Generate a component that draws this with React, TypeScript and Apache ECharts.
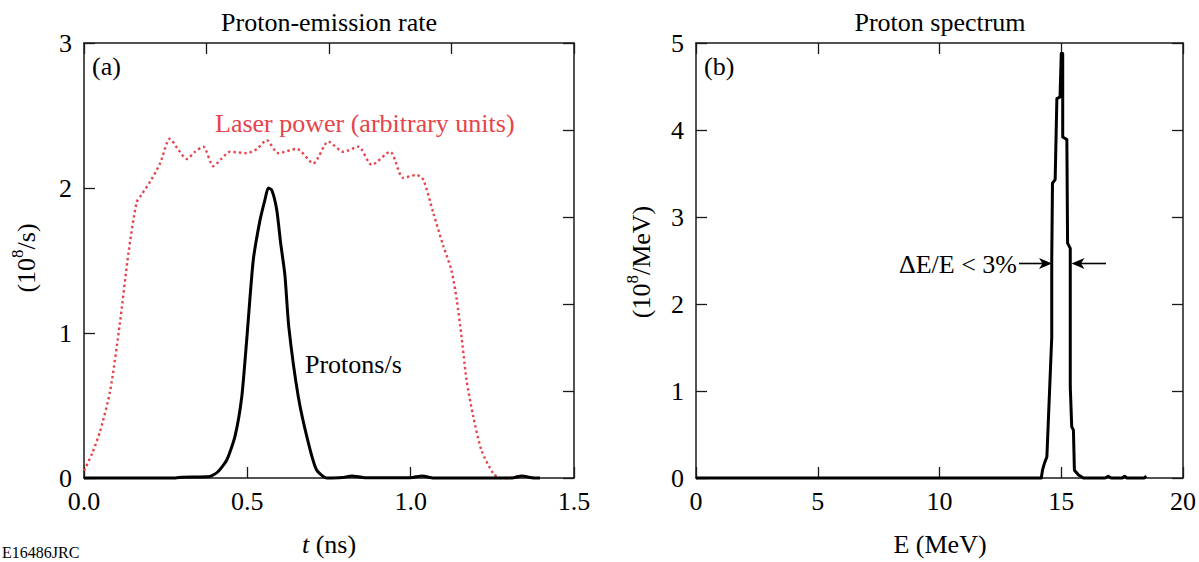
import React, { useEffect, useRef } from "react";
import * as echarts from "echarts";

// Panel (a): proton-emission rate (10^8/s) vs t (ns)
const protonT = [0, 0.28, 0.3, 0.385, 0.41, 0.437, 0.462, 0.483, 0.498, 0.518, 0.539, 0.554, 0.564, 0.575, 0.59, 0.602, 0.615, 0.627, 0.656, 0.687, 0.712, 0.743, 0.79, 0.82, 0.86, 1.0, 1.035, 1.07, 1.31, 1.34, 1.37, 1.396];
const protonRate = [0, 0, 0.006, 0.01, 0.043, 0.124, 0.285, 0.56, 0.95, 1.5, 1.78, 1.92, 2.0, 1.985, 1.85, 1.62, 1.4, 1.04, 0.56, 0.24, 0.055, 0, 0.003, 0.014, 0.002, 0.002, 0.014, 0, 0, 0.014, 0.002, 0];

// Laser power (arbitrary units), plotted on the left scale
const laserT = [0, 0.025, 0.049, 0.08, 0.11, 0.136, 0.161, 0.175, 0.207, 0.233, 0.263, 0.29, 0.314, 0.34, 0.365, 0.396, 0.42, 0.447, 0.498, 0.53, 0.559, 0.595, 0.651, 0.702, 0.748, 0.794, 0.84, 0.881, 0.937, 0.977, 1.018, 1.039, 1.069, 1.1, 1.125, 1.141, 1.156, 1.171, 1.192, 1.217, 1.253, 1.273, 1.3, 1.335, 1.36, 1.38];
const laserPower = [0.05, 0.17, 0.32, 0.6, 1.07, 1.55, 1.9, 1.95, 2.06, 2.17, 2.34, 2.26, 2.2, 2.25, 2.285, 2.15, 2.2, 2.25, 2.24, 2.27, 2.33, 2.24, 2.27, 2.17, 2.32, 2.25, 2.285, 2.16, 2.25, 2.07, 2.09, 2.055, 1.83, 1.6, 1.43, 1.23, 0.97, 0.676, 0.42, 0.19, 0.03, 0, 0, 0.014, 0.003, 0];

// Panel (b): proton spectrum (10^8/MeV) vs E (MeV)
const specE = [0, 14.18, 14.23, 14.31, 14.41, 14.61, 14.61, 14.64, 14.75, 14.82, 14.95, 15.0, 15.06, 15.06, 15.23, 15.26, 15.37, 15.37, 15.37, 15.43, 15.5, 15.54, 15.71, 15.91, 16.8, 16.93, 17.05, 17.5, 17.6, 17.7, 18.4, 18.5];
const specVal = [0, 0, 0.09, 0.17, 0.245, 1.62, 2.51, 3.39, 3.43, 4.36, 4.38, 4.88, 4.88, 3.92, 3.89, 2.7, 2.64, 2.05, 1.05, 0.59, 0.55, 0.09, 0.035, 0, 0, 0.02, 0, 0, 0.02, 0, 0, 0.02];

const leftXTicks = ["0.0", "0.5", "1.0", "1.5"];

const FONT = "'Liberation Serif', 'Times New Roman', serif";
const RED = "#e6434b";
const FRAME = "#1a1a1a";

export default function App() {
  const ref = useRef<HTMLDivElement>(null);

  useEffect(() => {
    if (!ref.current) return;
    const chart = echarts.init(ref.current, undefined, { renderer: "svg" });

    const axisBase = (extra: any) => ({
      axisLine: { show: true, onZero: false, lineStyle: { color: FRAME, width: 1.5 } },
      axisTick: { show: true, inside: true, length: 11, lineStyle: { color: FRAME, width: 1.3 } },
      splitLine: { show: false },
      ...extra,
    });
    const label = (extra: any) => ({
      show: true,
      color: "#000",
      fontFamily: FONT,
      fontSize: 26,
      ...extra,
    });

    const zip = (a: number[], b: number[]) => a.map((v, i) => [v, b[i]]);

    const option: any = {
      animation: false,
      backgroundColor: "#fff",
      grid: [
        { left: 84, right: 625, top: 43, bottom: 84 },
        { left: 696, right: 14, top: 43, bottom: 84 },
      ],
      xAxis: [
        axisBase({
          type: "value", gridIndex: 0, position: "bottom", min: 0, max: 1.5, interval: 0.5,
          axisLabel: label({ margin: 10, formatter: (v: number) => leftXTicks[Math.round(v / 0.5)] ?? "" }),
        }),
        axisBase({
          type: "value", gridIndex: 0, position: "top", min: 0, max: 1.5, interval: 0.375,
          axisLabel: { show: false },
        }),
        axisBase({
          type: "value", gridIndex: 1, position: "bottom", min: 0, max: 20, interval: 5,
          axisLabel: label({ margin: 10 }),
        }),
        axisBase({
          type: "value", gridIndex: 1, position: "top", min: 0, max: 20, interval: 5,
          axisLabel: { show: false },
        }),
      ],
      yAxis: [
        axisBase({
          type: "value", gridIndex: 0, position: "left", min: 0, max: 3, interval: 1,
          axisLabel: label({ margin: 12 }),
        }),
        axisBase({
          type: "value", gridIndex: 0, position: "right", min: 0, max: 5, interval: 1,
          axisLabel: { show: false },
        }),
        axisBase({
          type: "value", gridIndex: 1, position: "left", min: 0, max: 5, interval: 1,
          axisLabel: label({ margin: 12 }),
        }),
        axisBase({
          type: "value", gridIndex: 1, position: "right", min: 0, max: 5, interval: 1,
          axisLabel: { show: false },
        }),
      ],
      series: [
        {
          type: "line", name: "Laser power", xAxisIndex: 0, yAxisIndex: 0,
          data: zip(laserT, laserPower), showSymbol: false, smooth: 0.25,
          lineStyle: { color: RED, width: 2.4, type: [2.4, 3] },
          clip: false,
        },
        {
          type: "line", name: "Protons/s", xAxisIndex: 0, yAxisIndex: 0,
          data: zip(protonT, protonRate), showSymbol: false, smooth: 0.2,
          lineStyle: { color: "#000", width: 3 },
          clip: false,
        },
        {
          type: "line", name: "Proton spectrum", xAxisIndex: 2, yAxisIndex: 2,
          data: zip(specE, specVal), showSymbol: false, smooth: false,
          lineStyle: { color: "#000", width: 3, join: "round" },
          clip: false,
        },
      ],
      graphic: [
        { type: "text", x: 329, y: 22.5, style: { text: "Proton-emission rate", font: `26px ${FONT}`, fill: "#000", align: "center", verticalAlign: "middle" } },
        { type: "text", x: 940, y: 22.5, style: { text: "Proton spectrum", font: `26px ${FONT}`, fill: "#000", align: "center", verticalAlign: "middle" } },
        { type: "text", x: 92, y: 66, style: { text: "(a)", font: `26px ${FONT}`, fill: "#000", align: "left", verticalAlign: "middle" } },
        { type: "text", x: 704, y: 66, style: { text: "(b)", font: `26px ${FONT}`, fill: "#000", align: "left", verticalAlign: "middle" } },
        { type: "text", x: 215, y: 123, style: { text: "Laser power (arbitrary units)", font: `26px ${FONT}`, fill: RED, align: "left", verticalAlign: "middle" } },
        { type: "text", x: 305, y: 364, style: { text: "Protons/s", font: `26px ${FONT}`, fill: "#000", align: "left", verticalAlign: "middle" } },
        {
          type: "text", x: 329, y: 544,
          style: {
            text: "{i|t}{n| (ns)}", align: "center", verticalAlign: "middle", fill: "#000",
            rich: {
              i: { fontFamily: FONT, fontSize: 26, fontStyle: "italic", fill: "#000" },
              n: { fontFamily: FONT, fontSize: 26, fill: "#000" },
            },
          },
        },
        { type: "text", x: 940, y: 544, style: { text: "E (MeV)", font: `26px ${FONT}`, fill: "#000", align: "center", verticalAlign: "middle" } },
        {
          type: "text", x: 24, y: 258, rotation: Math.PI / 2,
          style: {
            text: "{a|(10}{s|8}{a|/s)}", align: "center", verticalAlign: "middle", fill: "#000",
            rich: {
              a: { fontFamily: FONT, fontSize: 26, lineHeight: 30, verticalAlign: "bottom", fill: "#000" },
              s: { fontFamily: FONT, fontSize: 17, lineHeight: 20, verticalAlign: "top", fill: "#000" },
            },
          },
        },
        {
          type: "text", x: 639, y: 262, rotation: Math.PI / 2,
          style: {
            text: "{a|(10}{s|8}{a|/MeV)}", align: "center", verticalAlign: "middle", fill: "#000",
            rich: {
              a: { fontFamily: FONT, fontSize: 26, lineHeight: 30, verticalAlign: "bottom", fill: "#000" },
              s: { fontFamily: FONT, fontSize: 17, lineHeight: 20, verticalAlign: "top", fill: "#000" },
            },
          },
        },
        { type: "text", x: 1017, y: 264, style: { text: "ΔE/E < 3%", font: `26px ${FONT}`, fill: "#000", align: "right", verticalAlign: "middle" } },
        { type: "line", shape: { x1: 1019, y1: 263.5, x2: 1045, y2: 263.5 }, style: { stroke: "#000", lineWidth: 1.6 } },
        { type: "polygon", shape: { points: [[1052, 263.5], [1039, 258], [1042.5, 263.5], [1039, 269]] }, style: { fill: "#000" } },
        { type: "line", shape: { x1: 1078, y1: 263.5, x2: 1106, y2: 263.5 }, style: { stroke: "#000", lineWidth: 1.6 } },
        { type: "polygon", shape: { points: [[1071.5, 263.5], [1084.5, 258], [1081, 263.5], [1084.5, 269]] }, style: { fill: "#000" } },
        { type: "text", x: 2, y: 560, style: { text: "E16486JRC", font: `16px ${FONT}`, fill: "#000", align: "left", verticalAlign: "bottom" } },
      ],
    };

    chart.setOption(option);
    return () => chart.dispose();
  }, []);

  return (
    <div
      ref={ref}
      style={{ position: "fixed", left: 0, top: 0, width: 1199, height: 562, background: "#fff" }}
    />
  );
}
